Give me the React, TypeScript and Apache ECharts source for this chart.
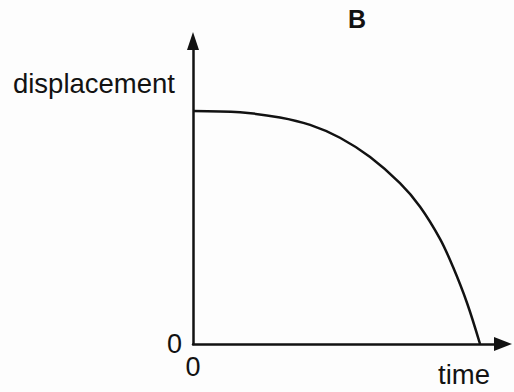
import React, { useEffect, useRef } from "react";
import * as echarts from "echarts";

const titleText = "B";
const xName = "time";
const yName = "displacement";
const timeValues = [0, 1.64, 3.03, 4.08, 5.12, 6.17, 7.21, 7.91, 8.61, 9.06, 9.55, 10];
const displacementValues = [10, 9.94, 9.72, 9.4, 8.85, 8.02, 6.9, 5.89, 4.5, 3.3, 1.75, 0];
const xMax = 10.8;
const yMax = 13;
const tickLabel = "0";

export default function App() {
  const ref = useRef<HTMLDivElement>(null);
  useEffect(() => {
    document.body.style.margin = "0";
    const chart = echarts.init(ref.current!, null, { renderer: "svg" });
    const ink = "#121212";
    const font = "'Liberation Sans', Arial, sans-serif";
    chart.setOption({
      animation: false,
      backgroundColor: "#fdfdfd",
      title: {
        text: titleText,
        left: 343,
        top: 1,
        textStyle: { fontFamily: font, fontWeight: "bold", fontSize: 25, color: ink },
      },
      grid: { left: 193, top: 41, width: 310, height: 303 },
      xAxis: {
        type: "value",
        min: 0,
        max: xMax,
        interval: 100,
        name: xName,
        nameLocation: "end",
        nameGap: -13,
        nameTextStyle: {
          fontFamily: font,
          fontSize: 27.5,
          color: ink,
          align: "right",
          verticalAlign: "top",
          padding: [16, 0, 0, 0],
        },
        axisLine: {
          show: true,
          symbol: ["none", "triangle"],
          symbolSize: [14, 18],
          lineStyle: { color: ink, width: 2.5 },
        },
        axisTick: { show: false },
        splitLine: { show: false },
        axisLabel: {
          margin: 9,
          fontFamily: font,
          fontSize: 27,
          color: ink,
          formatter: (v: number) => (v === 0 ? tickLabel : ""),
        },
      },
      yAxis: {
        type: "value",
        min: 0,
        max: yMax,
        interval: 100,
        name: yName,
        nameLocation: "end",
        nameGap: -42,
        nameTextStyle: {
          fontFamily: font,
          fontSize: 27.5,
          color: ink,
          align: "right",
          verticalAlign: "middle",
          padding: [0, 18, 0, 0],
        },
        axisLine: {
          show: true,
          symbol: ["none", "triangle"],
          symbolSize: [12, 18],
          lineStyle: { color: ink, width: 2.5 },
        },
        axisTick: { show: false },
        splitLine: { show: false },
        axisLabel: {
          margin: 11,
          fontFamily: font,
          fontSize: 27,
          color: ink,
          padding: [6, 0, 0, 0],
          formatter: (v: number) => (v === 0 ? tickLabel : ""),
        },
      },
      series: [
        {
          type: "line",
          data: timeValues.map((t, i) => [t, displacementValues[i]]),
          smooth: 0.35,
          showSymbol: false,
          lineStyle: { color: ink, width: 2.5 },
          z: 1,
        },
      ],
    });
    return () => chart.dispose();
  }, []);
  return <div ref={ref} style={{ width: 514, height: 392 }} />;
}
